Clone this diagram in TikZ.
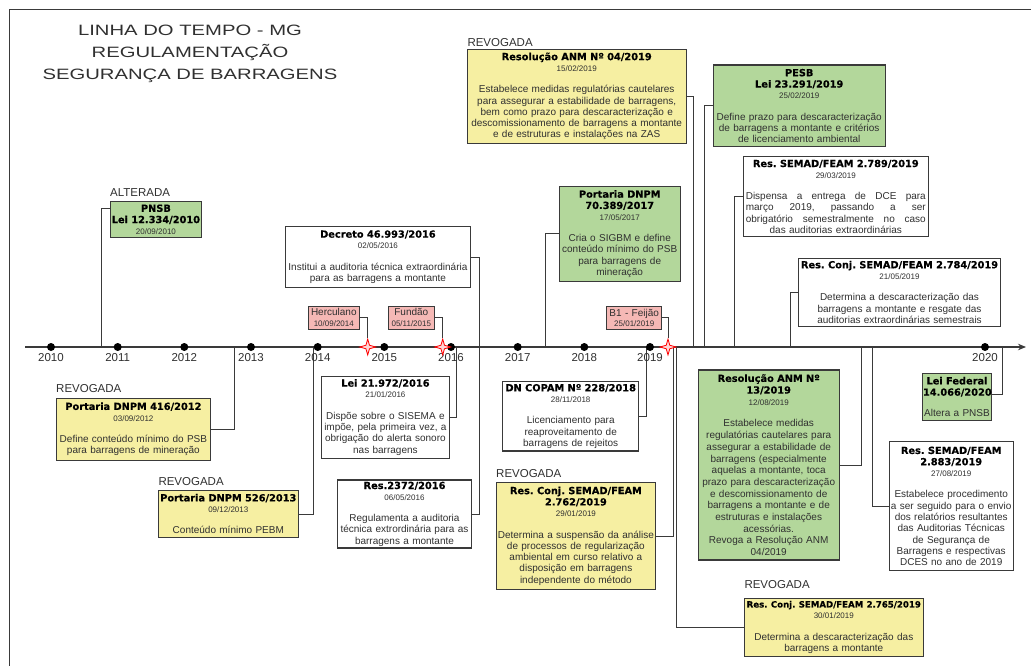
\documentclass[tikz,border=0pt]{standalone}
\usepackage{fontspec}
\setmainfont{Liberation Sans}
\newfontfamily\headfont{DejaVu Sans}[BoldFeatures={FakeBold=0.4}]
\newfontfamily\bannerfont{Liberation Sans}[FakeStretch=1.35]
\usetikzlibrary{shapes.geometric,arrows.meta}
\frenchspacing

\definecolor{docyellow}{HTML}{F6EFA2}
\definecolor{docgreen}{HTML}{B3D79B}
\definecolor{docred}{HTML}{F5B8B5}
\definecolor{edge}{HTML}{3A3A3A}
\definecolor{ink}{HTML}{303030}
\definecolor{sparkfill}{HTML}{FFD6D6}

\newcommand{\lawtitle}[1]{\mbox{\headfont\bfseries\fontsize{9.8}{11.3}\selectfont\color{black}#1}}
\newcommand{\smalltitle}[1]{\mbox{\headfont\bfseries\fontsize{8.6}{11.3}\selectfont\color{black}#1}}
\newcommand{\lawdate}[1]{{\fontsize{8}{11.3}\selectfont #1}}

\begin{document}
\begin{tikzpicture}[x=1pt,y=-1pt,
  docbox/.style={draw=edge, line width=1.1pt, inner sep=0pt, align=center,
    text=ink, font=\fontsize{10}{11.3}\selectfont},
  yellowbox/.style={docbox, fill=docyellow},
  greenbox/.style={docbox, fill=docgreen},
  whitebox/.style={docbox, fill=white},
  eventbox/.style={draw=edge, line width=0.9pt, fill=docred, inner sep=0pt,
    align=center, text=ink, font=\fontsize{10}{10.5}\selectfont},
  conn/.style={draw=edge, line width=1pt},
  status/.style={anchor=west, inner sep=0pt, text=ink,
    font=\fontsize{11.5}{13}\selectfont},
  yearlabel/.style={inner sep=0pt, text=ink, font=\fontsize{11.5}{13}\selectfont},
  yeardot/.style={circle, fill=black, minimum size=8pt, inner sep=0pt},
  spark/.style={star, star points=4, star point ratio=3.2, minimum size=16pt,
    inner sep=0pt, draw=red, fill=sparkfill, line width=0.8pt}
]
\useasboundingbox (0,0) rectangle (1031,666);

% frame
\draw[edge, line width=1pt] (9,666) -- (9,10) -- (1031,10);

% heading
\node[align=center, text=ink, font=\bannerfont\fontsize{15}{22}\selectfont] (banner) at (190,54)
  {LINHA DO TEMPO - MG\\REGULAMENTAÇÃO\\SEGURANÇA DE BARRAGENS};

% time axis
\coordinate (tl-a) at (25,347);
\coordinate (tl-b) at (1026,347);

% points where the connectors meet the axis
\coordinate (x-pnsb) at (101,347);
\coordinate (x-416) at (234.5,347);
\coordinate (x-526) at (313.5,347);
\coordinate (x-21972) at (456.7,347);
\coordinate (x-dec) at (479,347);
\coordinate (x-70389) at (545.5,347);
\coordinate (x-copam) at (646,347);
\coordinate (x-2762) at (673,347);
\coordinate (x-2765) at (676.5,347);
\coordinate (x-anm04) at (693,347);
\coordinate (x-pesb) at (704.5,347);
\coordinate (x-2789) at (734.6,347);
\coordinate (x-2784) at (790,347);
\coordinate (x-anm13) at (861,347);
\coordinate (x-2883) at (872,347);
\coordinate (x-14066) at (1002,347);

% ---- documents above the axis
\node[status] (st-pnsb) at (110,192.7) {ALTERADA};
\node[greenbox, minimum width=91.7pt, minimum height=35.6pt, text width=89pt] (pnsb) at (155.9,219.5)
  {\lawtitle{PNSB}\\ \lawtitle{Lei 12.334/2010}\\ \lawdate{20/09/2010}};

\node[whitebox, minimum width=184.3pt, minimum height=60.6pt, text width=182pt] (dec) at (377.9,257)
  {\lawtitle{Decreto 46.993/2016}\\ \lawdate{02/05/2016}\\[10pt]
   Institui a auditoria técnica extraordinária\\ para as barragens a montante};

\node[greenbox, minimum width=120.7pt, minimum height=95.7pt, text width=118pt] (p70389) at (619.7,233.9)
  {\lawtitle{Portaria DNPM}\\ \lawtitle{70.389/2017}\\ \lawdate{17/05/2017}\\[10pt]
   Cria o SIGBM e define\\ conteúdo mínimo do PSB\\ para barragens de\\ mineração};

\node[status] (st-anm04) at (467.3,42.7) {REVOGADA};
\node[yellowbox, minimum width=218.7pt, minimum height=94pt, text width=216pt] (anm04) at (576.7,96.3)
  {\lawtitle{Resolução ANM Nº 04/2019}\\ \lawdate{15/02/2019}\\[10pt]
   Estabelece medidas regulatórias cautelares\\ para assegurar a estabilidade de barragens,\\
   bem como prazo para descaracterização e\\ descomissionamento de barragens a montante\\
   e de estruturas e instalações na ZAS};

\node[greenbox, minimum width=171.7pt, minimum height=81.7pt, text width=169pt] (pesb) at (799.2,105.9)
  {\lawtitle{PESB}\\ \lawtitle{Lei 23.291/2019}\\ \lawdate{25/02/2019}\\[10pt]
   Define prazo para descaracterização\\ de barragens a montante e critérios\\ de licenciamento ambiental};

\node[whitebox, minimum width=185pt, minimum height=80pt, text width=181pt] (r2789) at (835.8,196.7)
  {\lawtitle{Res. SEMAD/FEAM 2.789/2019}\\ \lawdate{29/03/2019}\\[10pt]
   \makebox[180pt][s]{Dispensa\hfill a\hfill entrega\hfill de\hfill DCE\hfill para}\\
   \makebox[180pt][s]{março\hfill 2019,\hfill passando\hfill a\hfill ser}\\
   \makebox[180pt][s]{obrigatório\hfill semestralmente\hfill no\hfill caso}\\
   das auditorias extraordinárias};

\node[whitebox, minimum width=202.4pt, minimum height=67.7pt, text width=200pt] (r2784) at (899.5,292.2)
  {\lawtitle{Res. Conj. SEMAD/FEAM 2.784/2019}\\ \lawdate{21/05/2019}\\[10pt]
   Determina a descaracterização das\\ barragens a montante e resgate das\\ auditorias extraordinárias semestrais};

% ---- disasters
\node[eventbox, minimum width=51pt, minimum height=23pt, text width=50pt] (herc) at (333.8,317.5)
  {Herculano\\ \lawdate{10/09/2014}};
\node[eventbox, minimum width=46pt, minimum height=23pt, text width=45pt] (fundao) at (411.3,317.5)
  {Fundão\\ \lawdate{05/11/2015}};
\node[eventbox, minimum width=55pt, minimum height=23pt, text width=54pt] (feijao) at (634.2,317.8)
  {B1 - Feijão\\ \lawdate{25/01/2019}};

% ---- documents below the axis
\node[status] (st-416) at (56,389) {REVOGADA};
\node[yellowbox, minimum width=154.7pt, minimum height=61.7pt, text width=152pt] (p416) at (133.4,429.2)
  {\lawtitle{Portaria DNPM 416/2012}\\ \lawdate{03/09/2012}\\[10pt]
   Define conteúdo mínimo do PSB\\ para barragens de mineração};

\node[status] (st-526) at (158.3,481.7) {REVOGADA};
\node[yellowbox, minimum width=140pt, minimum height=46.6pt, text width=139pt] (p526) at (228.3,514)
  {\lawtitle{Portaria DNPM 526/2013}\\ \lawdate{09/12/2013}\\[10pt]
   Conteúdo mínimo PEBM};

\node[whitebox, minimum width=127.3pt, minimum height=82.3pt, text width=125pt] (l21972) at (385.4,417.2)
  {\lawtitle{Lei 21.972/2016}\\ \lawdate{21/01/2016}\\[10pt]
   Dispõe sobre o SISEMA e\\ impõe, pela primeira vez, a\\ obrigação do alerta sonoro\\ nas barragens};

\node[whitebox, minimum width=134.4pt, minimum height=68pt, text width=132pt] (r2372) at (404.5,514)
  {\lawtitle{Res.2372/2016}\\ \lawdate{06/05/2016}\\[10pt]
   Regulamenta a auditoria\\ técnica extrordinária para as\\ barragens a montante};

\node[whitebox, minimum width=136pt, minimum height=69.3pt, text width=134pt] (copam) at (570.7,416.3)
  {\lawtitle{DN COPAM Nº 228/2018}\\ \lawdate{28/11/2018}\\[10pt]
   Licenciamento para\\ reaproveitamento de\\ barragens de rejeitos};

\node[status] (st-2762) at (496,474) {REVOGADA};
\node[yellowbox, minimum width=159.7pt, minimum height=106.6pt, text width=158pt] (r2762) at (575.9,536)
  {\lawtitle{Res. Conj. SEMAD/FEAM}\\ \lawtitle{2.762/2019}\\ \lawdate{29/01/2019}\\[10pt]
   Determina a suspensão da análise\\ de processos de regularização\\ ambiental em curso relativo a\\
   disposição em barragens\\ independente do método};

\node[greenbox, minimum width=140.7pt, minimum height=190pt, text width=139pt,
  font=\fontsize{10}{11.7}\selectfont] (anm13) at (768.7,465)
  {\lawtitle{Resolução ANM Nº}\\ \lawtitle{13/2019}\\ \lawdate{12/08/2019}\\[10pt]
   Estabelece medidas\\ regulatórias cautelares para\\ assegurar a estabilidade de\\ barragens (especialmente\\
   aquelas a montante, toca\\ prazo para descaracterização\\ e descomissionamento de\\ barragens a montante e de\\
   estruturas e instalações\\ acessórias.\\ Revoga a Resolução ANM\\ 04/2019};

\node[greenbox, minimum width=69.4pt, minimum height=47.4pt, text width=68pt] (l14066) at (957,397)
  {\lawtitle{Lei Federal}\\ \lawtitle{14.066/2020}\\[10pt] Altera a PNSB};

\node[whitebox, minimum width=124.3pt, minimum height=129pt, text width=123pt] (r2883) at (951.2,506.2)
  {\lawtitle{Res. SEMAD/FEAM}\\ \lawtitle{2.883/2019}\\ \lawdate{27/08/2019}\\[10pt]
   Estabelece procedimento\\ a ser seguido para o envio\\ dos relatórios resultantes\\ das Auditorias Técnicas\\
   de Segurança de\\ Barragens e respectivas\\ DCES no ano de 2019};

\node[status] (st-2765) at (744.3,585) {REVOGADA};
\node[yellowbox, minimum width=179pt, minimum height=57.7pt, text width=177pt] (r2765) at (833.8,627.2)
  {\smalltitle{Res. Conj. SEMAD/FEAM 2.765/2019}\\ \lawdate{30/01/2019}\\[10pt]
   Determina a descaracterização das\\ barragens a montante};

% ---- connectors
\draw[conn] (pnsb.west |- 0,208.3) -| (x-pnsb);
\draw[conn] (dec.east) -| (x-dec);
\draw[conn] (p70389.west) -| (x-70389);
\draw[conn] (anm04.east) -| (x-anm04);
\draw[conn] (pesb.west) -| (x-pesb);
\draw[conn] (r2789.west) -| (x-2789);
\draw[conn] (r2784.west) -| (x-2784);

\draw[conn] (x-416) |- (p416.east);
\draw[conn] (x-526) |- (p526.east);
\draw[conn] (x-21972) |- (l21972.east);
\draw[conn] (x-dec) |- (r2372.east);
\draw[conn] (x-copam) |- (copam.east);
\draw[conn] (x-2762) |- (r2762.east);
\draw[conn] (x-2765) |- (r2765.west);
\draw[conn] (x-anm13) |- (anm13.east);
\draw[conn] (x-2883) |- (r2883.west);
\draw[conn] (x-14066) |- (l14066.east |- 0,394.3);

% axis drawn over the connector ends
\draw[edge, line width=1.1pt, -{Stealth[length=8pt,width=6.5pt]}] (tl-a) -- (tl-b);

% years
\foreach \yr/\xx in {2010/51,2011/117.7,2012/184.3,2013/251,2014/317.7,2015/384.3,
                     2016/451,2017/517.7,2018/584.3,2019/650,2020/985}{
  \node[yeardot] (dot-\yr) at (\xx,347) {};
  \node[yearlabel] (lbl-\yr) at (\xx,357.5) {\yr};
}

% disaster markers on the axis
\node[spark] (sp-herc) at (367.7,347) {};
\node[spark] (sp-fundao) at (442.7,347) {};
\node[spark] (sp-feijao) at (668,347) {};
\draw[conn] (herc.east) -| (sp-herc.north);
\draw[conn] (fundao.east) -| (sp-fundao.north);
\draw[conn] (feijao.east) -| (sp-feijao.north);
\end{tikzpicture}
\end{document}
